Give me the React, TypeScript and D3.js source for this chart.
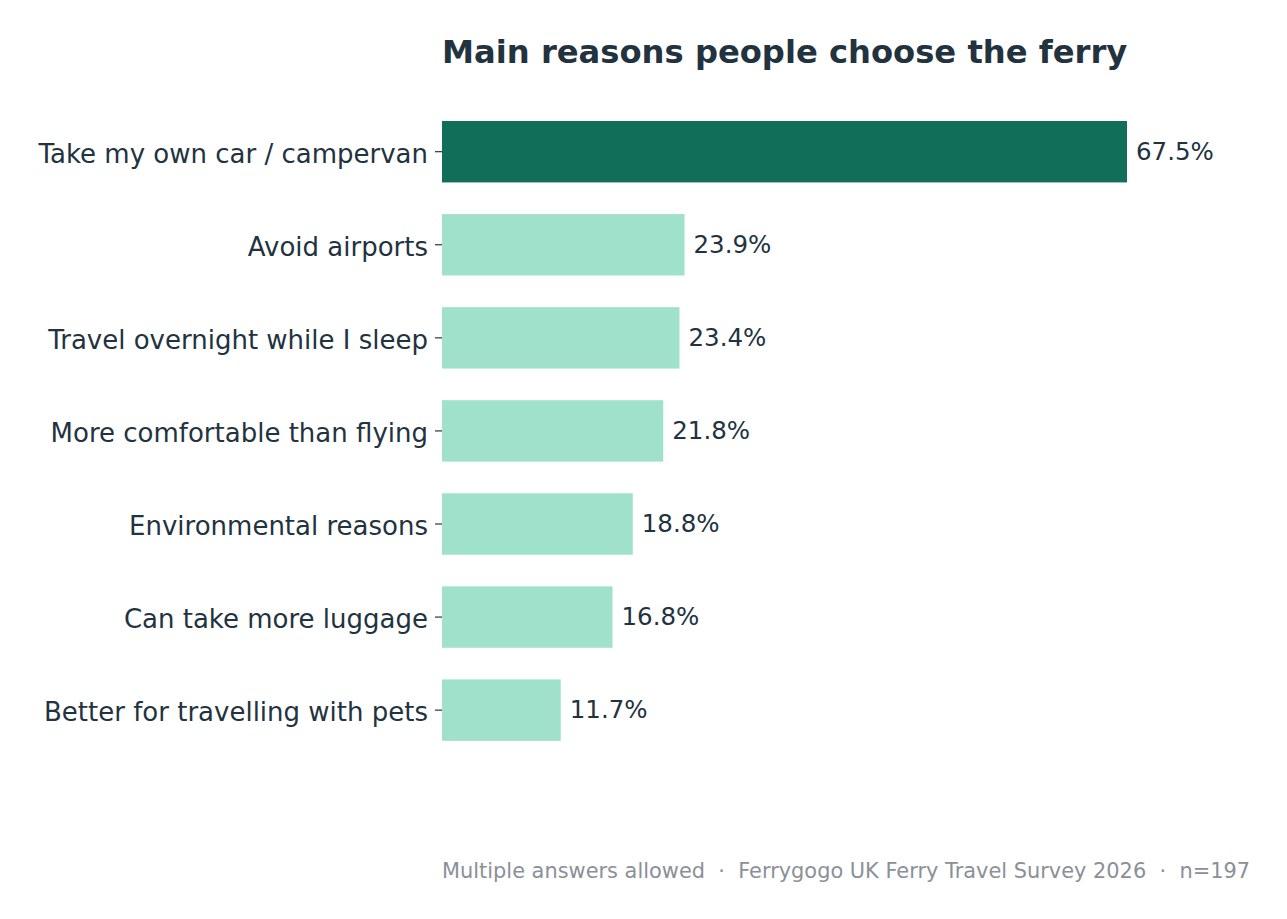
import * as d3 from 'd3';
import { useEffect, useRef } from 'react';

const reasons = [
    'Take my own car / campervan',
    'Avoid airports',
    'Travel overnight while I sleep',
    'More comfortable than flying',
    'Environmental reasons',
    'Can take more luggage',
    'Better for travelling with pets',
];
const shares = [67.5, 23.9, 23.4, 21.8, 18.8, 16.8, 11.7];

const title = 'Main reasons people choose the ferry';
const footnote = 'Multiple answers allowed  \u00b7  Ferrygogo UK Ferry Travel Survey 2026  \u00b7  n=197';

const TEXT = '#22333f';
const TOP = '#116f59';
const REST = '#a0e1cb';

export default function App() {
    const ref = useRef<SVGSVGElement>(null);

    const width = 1287,
        height = 919;
    const margin = { left: 442, top: 89.35, bottom: 146.5 };

    useEffect(() => {
        const svg = d3.select(ref.current);
        svg.selectAll('*').remove();

        const x = d3
            .scaleLinear()
            .domain([0, 67.5])
            .range([margin.left, 1127]);
        const y = d3
            .scaleBand()
            .domain(reasons)
            .range([margin.top, height - margin.bottom])
            .padding(0.34);

        const rows = reasons.map((r, i) => ({ reason: r, value: shares[i] }));

        svg.append('text')
            .attr('x', margin.left)
            .attr('y', 63)
            .attr('fill', TEXT)
            .attr('font-size', 32.2)
            .attr('font-weight', 'bold')
            .text(title);

        svg.append('g')
            .selectAll('rect')
            .data(rows)
            .join('rect')
            .attr('x', x(0))
            .attr('y', (d) => y(d.reason)!)
            .attr('width', (d) => x(d.value) - x(0))
            .attr('height', y.bandwidth())
            .attr('fill', (d, i) => (i === 0 ? TOP : REST));

        // value labels just past the bar ends
        svg.append('g')
            .selectAll('text')
            .data(rows)
            .join('text')
            .attr('x', (d) => x(d.value) + 9)
            .attr('y', (d) => y(d.reason)! + y.bandwidth() / 2)
            .attr('dy', '0.34em')
            .attr('fill', TEXT)
            .attr('font-size', 24.5)
            .text((d) => `${d.value.toFixed(1)}%`);

        const axis = svg
            .append('g')
            .attr('transform', `translate(${margin.left},0)`)
            .call(d3.axisLeft(y).tickSize(7).tickPadding(7));
        axis.select('.domain').remove();
        axis.selectAll('line').attr('stroke', '#222').attr('stroke-width', 1.1);
        axis.selectAll('text')
            .attr('fill', TEXT)
            .attr('font-size', 26)
            .attr('font-family', 'DejaVu Sans')
            .attr('dy', '0.42em');

        svg.append('text')
            .attr('x', margin.left)
            .attr('y', 878)
            .attr('fill', '#8b9098')
            .attr('font-size', 20.9)
            .attr('xml:space', 'preserve')
            .style('white-space', 'pre')
            .text(footnote);
    }, []);

    return (
        <svg
            ref={ref}
            width={width}
            height={height}
            fontFamily="DejaVu Sans"
            style={{ position: 'absolute', left: 0, top: 0, background: '#fff' }}
        />
    );
}
